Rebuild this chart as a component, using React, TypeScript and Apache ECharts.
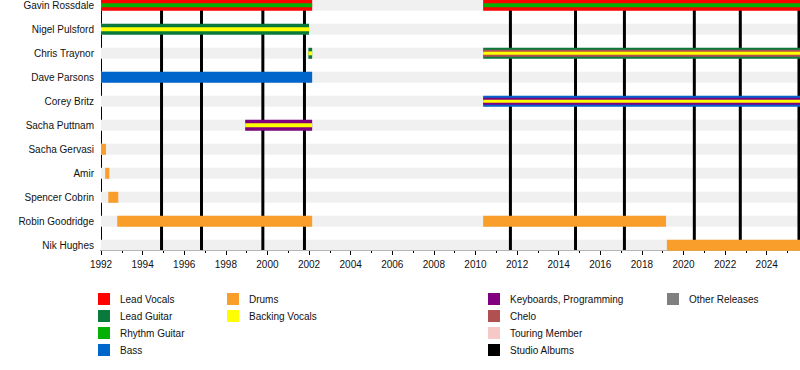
import React, { useEffect, useRef } from "react";
import * as echarts from "echarts";

const X_MIN = 1992;
const X_MAX = 2025.6;

const members = [
  "Gavin Rossdale",
  "Nigel Pulsford",
  "Chris Traynor",
  "Dave Parsons",
  "Corey Britz",
  "Sacha Puttnam",
  "Sacha Gervasi",
  "Amir",
  "Spencer Cobrin",
  "Robin Goodridge",
  "Nik Hughes",
];

// [member, from, till, roles (outer -> inner)]
const tenures: [string, number, number, string[]][] = [
  ["Gavin Rossdale", 1992, 2002.15, ["Lead Vocals", "Rhythm Guitar"]],
  ["Gavin Rossdale", 2010.37, X_MAX, ["Lead Vocals", "Rhythm Guitar"]],
  ["Nigel Pulsford", 1992, 2002.0, ["Lead Guitar", "Backing Vocals"]],
  ["Chris Traynor", 2001.97, 2002.15, ["Lead Guitar", "Backing Vocals"]],
  ["Chris Traynor", 2010.37, X_MAX, ["Lead Guitar", "Chelo", "Backing Vocals"]],
  ["Dave Parsons", 1992, 2002.15, ["Bass"]],
  ["Corey Britz", 2010.37, X_MAX, ["Bass", "Keyboards, Programming", "Backing Vocals"]],
  ["Sacha Puttnam", 1998.93, 2002.15, ["Keyboards, Programming", "Backing Vocals"]],
  ["Sacha Gervasi", 1992, 1992.24, ["Drums"]],
  ["Amir", 1992.2, 1992.4, ["Drums"]],
  ["Spencer Cobrin", 1992.35, 1992.83, ["Drums"]],
  ["Robin Goodridge", 1992.78, 2002.15, ["Drums"]],
  ["Robin Goodridge", 2010.37, 2019.16, ["Drums"]],
  ["Nik Hughes", 2019.2, X_MAX, ["Drums"]],
];

const studioAlbums = [1994.91, 1996.83, 1999.78, 2001.78, 2011.68, 2014.81, 2017.16, 2020.52, 2022.73, 2025.55];

const xTickYears = [1992, 1994, 1996, 1998, 2000, 2002, 2004, 2006, 2008, 2010, 2012, 2014, 2016, 2018, 2020, 2022, 2024];

const legendColumns = [
  ["Lead Vocals", "Lead Guitar", "Rhythm Guitar", "Bass"],
  ["Drums", "Backing Vocals"],
  ["Keyboards, Programming", "Chelo", "Touring Member", "Studio Albums"],
  ["Other Releases"],
];

const roleColors: Record<string, string> = {
  "Lead Vocals": "#ff0000",
  "Lead Guitar": "#0a7a3c",
  "Rhythm Guitar": "#05b005",
  Bass: "#0066cc",
  Drums: "#f99e2a",
  "Backing Vocals": "#ffff00",
  "Keyboards, Programming": "#800080",
  Chelo: "#b05050",
  "Touring Member": "#f7c8c8",
  "Studio Albums": "#000000",
  "Other Releases": "#808080",
};

const legendLefts = [98, 227, 488, 667];
const FONT = "'Liberation Sans', Arial, Helvetica, sans-serif";
const TEXT = "#111";

export default function App() {
  const ref = useRef<HTMLDivElement>(null);

  useEffect(() => {
    if (!ref.current) return;
    const chart = echarts.init(ref.current, undefined, { renderer: "svg" });

    // bar layers: [from, till, row, colorIndex, heightPx]
    const roleNames = Object.keys(roleColors);
    const layerData: number[][] = [];
    tenures.forEach(([m, from, till, roles]) => {
      const row = members.indexOf(m);
      const heights = roles.length === 1 ? [11] : roles.length === 2 ? [11, 4] : [11, 7, 3];
      roles.forEach((r, k) => {
        layerData.push([from, till, row, roleNames.indexOf(r), heights[k]]);
      });
    });

    const dummySeries = roleNames.map((name) => ({
      type: "custom",
      name,
      data: [],
      itemStyle: { color: roleColors[name] },
      renderItem: () => null,
    }));

    const option: any = {
      animation: false,
      textStyle: { fontFamily: FONT },
      grid: { left: 101, right: 0, top: 0, bottom: 120, containLabel: false, outerBoundsMode: "none" },
      xAxis: {
        type: "value",
        min: X_MIN,
        max: X_MAX,
        interval: 2,
        axisLine: { show: true, onZero: false, lineStyle: { color: "#000", width: 1 } },
        axisTick: { show: true, length: 5, lineStyle: { color: "#000" } },
        minorTick: { show: true, splitNumber: 2, length: 3, lineStyle: { color: "#000" } },
        splitLine: { show: false },
        axisLabel: {
          customValues: xTickYears,
          margin: 9,
          color: TEXT,
          fontSize: 10,
          fontFamily: FONT,
          formatter: (v: number) => String(v),
        },
      },
      yAxis: {
        type: "value",
        inverse: true,
        min: -0.221,
        max: 10.196,
        axisLine: { show: true, onZero: false, lineStyle: { color: "#000", width: 1 } },
        axisTick: { show: false },
        splitLine: { show: false },
        axisLabel: {
          customValues: members.map((_, i) => i),
          margin: 7,
          color: TEXT,
          fontSize: 10,
          fontFamily: FONT,
          formatter: (v: number) => members[Math.round(v)] ?? "",
        },
      },
      legend: legendColumns.map((col, i) => ({
        data: col,
        orient: "vertical",
        left: legendLefts[i],
        top: 293,
        padding: 0,
        itemWidth: 12,
        itemHeight: 12,
        itemGap: 5,
        icon: "rect",
        selectedMode: false,
        textStyle: { fontSize: 10, color: TEXT, fontFamily: FONT, padding: [0, 0, 0, 5] },
      })),
      series: [
        {
          type: "custom",
          name: "bands",
          z: 1,
          silent: true,
          data: members.map((_, i) => [X_MIN, i]),
          renderItem: (_p: any, api: any) => {
            const row = api.value(1);
            const a = api.coord([X_MIN, row]);
            const b = api.coord([X_MAX, row]);
            return {
              type: "rect",
              shape: { x: a[0], y: a[1] - 5.5, width: b[0] - a[0], height: 11 },
              style: { fill: "#f0f0f0" },
            };
          },
        },
        {
          type: "custom",
          name: "albums",
          z: 2,
          silent: true,
          data: studioAlbums.map((x) => [x, 0]),
          renderItem: (_p: any, api: any) => {
            const x = api.value(0);
            const a = api.coord([x, -0.221]);
            const b = api.coord([x, 10.196]);
            return {
              type: "rect",
              shape: { x: a[0] - 1.5, y: Math.min(a[1], b[1]), width: 3, height: Math.abs(b[1] - a[1]) },
              style: { fill: "#000" },
            };
          },
        },
        {
          type: "custom",
          name: "bars",
          z: 3,
          silent: true,
          data: layerData,
          encode: { x: [0, 1], y: 2 },
          renderItem: (_p: any, api: any) => {
            const from = api.value(0);
            const till = api.value(1);
            const row = api.value(2);
            const color = roleColors[roleNames[api.value(3)]];
            const h = api.value(4);
            const a = api.coord([from, row]);
            const b = api.coord([till, row]);
            return {
              type: "rect",
              shape: { x: a[0], y: a[1] - h / 2, width: b[0] - a[0], height: h },
              style: { fill: color },
            };
          },
        },
        ...dummySeries,
      ],
    };

    chart.setOption(option);
    return () => chart.dispose();
  }, []);

  return (
    <div
      ref={ref}
      style={{ position: "absolute", left: 0, top: 0, width: 800, height: 370 }}
    />
  );
}
